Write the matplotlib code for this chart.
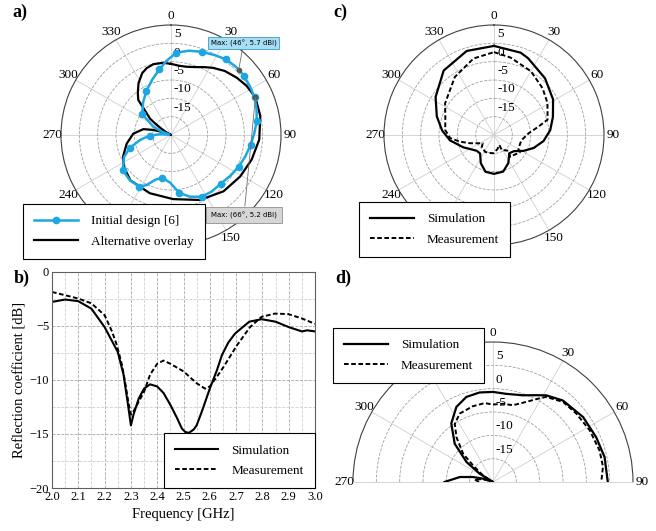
import numpy as np
import matplotlib
matplotlib.use('Agg')
import matplotlib.pyplot as plt
from matplotlib.transforms import offset_copy

plt.rcParams['font.family'] = ['Liberation Serif', 'DejaVu Serif']

# ---------------- data ----------------
# a) initial design (blue, with markers) and alternative overlay (black), deg / dBi
blue_ang = [3.7, 12, 20.4, 28.3, 35.8, 43, 46, 50.8, 58.5, 65.8, 73, 80.7, 89, 97, 106,
            115, 124.8, 134.6, 144.3, 153.6, 163, 172, 181, 192, 199.6, 206, 211.5, 222,
            233.8, 245, 252.5, 261, 268.5, 274, 280, 285, 290, 295, 306, 320, 331, 341.5,
            350, 356.7, 363.7]
blue_db = [2.5, 3.5, 4.2, 4.8, 5.5, 5.65, 5.7, 5.6, 5.3, 5.0, 4.4, 3.7, 2.7, 1.9, 1.1,
           0.4, -0.4, -1.0, -1.0, -1.2, -2.4, -4.1, -7.0, -8.1, -7.0, -4.8, -3.5, -3.3,
           -3.7, -5.9, -8.2, -11.5, -14.2, -17, -19.5, -19.5, -17.3, -14.7, -10.3, -8.2,
           -6.2, -4.0, -1.8, 0.3, 2.5]
blue_marks = [0, 2, 4, 7, 9, 11, 13, 15, 17, 19, 21, 23, 26, 28, 30, 32, 38, 40, 42]

alt_ang = [0, 7, 13, 20, 26, 32, 40, 49, 57, 66, 78, 93, 107, 121, 137, 156, 178, 200,
           222, 236, 246, 259, 272, 282, 286, 291, 296, 300, 303, 306, 308, 312, 317,
           322, 328, 335, 340, 346, 354, 360]
alt_db = [-0.6, -1.0, -0.9, -0.3, 0.6, 1.6, 2.8, 3.8, 4.6, 5.2, 4.9, 4.1, 3.0, 2.0, 1.0,
          -0.6, -2.5, -3.1, -3.4, -4.5, -5.7, -7.7, -9.7, -12.3, -15, -18, -20, -18.5,
          -17.0, -14.6, -12.7, -11.0, -6.9, -5.3, -3.3, -1.4, -0.6, -0.1, -0.2, -0.6]

max_blue = (46, 5.7)
max_alt = (66, 5.2)

# c) radiation pattern, simulation vs measurement
c_sim_ang = [0, 18, 24, 42, 59, 73, 85, 97, 108, 118, 129, 140, 153, 166, 180, 193, 205,
             217, 228, 248, 263, 275, 288, 303, 322, 342, 360]
c_sim_db = [4.3, 3.6, 2.9, 0.8, -1.2, -3.2, -4.6, -6.4, -8.6, -10.8, -13.0, -13.5, -11.4,
            -9.7, -9.4, -9.7, -11.5, -13.7, -13.6, -11.0, -7.9, -5.8, -3.6, -1.0, 2.3,
            4.1, 4.3]
c_meas_ang = [0, 12, 30, 46, 59, 74, 79, 87, 100, 108, 120, 124, 135, 143.6, 137.5, 153,
              152, 167, 182, 198, 208, 226, 234, 242, 251, 259, 266, 276, 286, 303, 326,
              345, 360]
c_meas_db = [2.6, 1.6, 0.1, -1.6, -3.0, -4.8, -7.5, -10.5, -12.3, -12.5, -12.3, -11.5,
             -12.3, -12.6, -14.2, -15.4, -16.9, -16.0, -15.0, -14.9, -14.8, -15.4, -16.2,
             -15.2, -13.1, -10.5, -8.0, -6.6, -6.2, -4.1, -0.9, 1.6, 2.6]

# d) half-plane pattern
d_sim_ang = [-90, -81.5, -76, -71.6, -65, -58, -53, -45, -35.5, -26, -17.4, -8.5, 0, 8.6,
             19, 26.6, 31.6, 40.6, 54.2, 66.5, 77.4, 90]
d_sim_db = [-9.6, -12.8, -15.6, -17.7, -20, -16.6, -12.9, -8.4, -4.6, -2.1, -0.9, -0.6,
            -0.7, -0.9, -0.35, 0.8, 1.8, 3.0, 3.8, 4.1, 4.5, 4.6]
d_meas_ang = [-90, -82, -76, -70, -65, -56.3, -50.2, -46.6, -39.2, -33.3, -26, -15, -6, 0,
              7.3, 14.6, 22.6, 28.4, 32, 41.2, 50.6, 61.9, 73.5, 82, 90]
d_meas_db = [-17, -16, -17.5, -19, -20, -17.4, -14.4, -11.2, -7.6, -5.1, -3.7, -3.2, -3.0,
             -3.4, -3.1, -3.0, -1.4, 0.3, 1.5, 2.8, 3.1, 3.5, 3.8, 3.8, 3.2]

# b) reflection coefficient
b_sim_f = [2.0, 2.05, 2.1, 2.15, 2.2, 2.25, 2.272, 2.289, 2.30, 2.31, 2.33, 2.35, 2.373,
           2.4, 2.424, 2.45, 2.475, 2.494, 2.506, 2.52, 2.538, 2.55, 2.57, 2.6, 2.627,
           2.646, 2.67, 2.696, 2.75, 2.797, 2.85, 2.9, 2.95, 2.97, 3.0]
b_sim_db = [-2.77, -2.55, -2.7, -3.4, -5.1, -7.4, -9.5, -12.3, -14.2, -13.2, -11.7, -10.8,
            -10.4, -10.6, -11.2, -12.3, -13.5, -14.5, -14.8, -14.9, -14.6, -14.2, -12.9,
            -10.8, -9.1, -7.7, -6.55, -5.7, -4.6, -4.37, -4.6, -5.1, -5.5, -5.4, -5.5]
b_meas_f = [2.0, 2.05, 2.1, 2.15, 2.2, 2.228, 2.247, 2.266, 2.278, 2.29, 2.30, 2.31, 2.33,
            2.35, 2.373, 2.4, 2.424, 2.45, 2.5, 2.55, 2.582, 2.6, 2.627, 2.652, 2.703,
            2.753, 2.797, 2.848, 2.899, 2.95, 3.0]
b_meas_db = [-1.85, -2.15, -2.46, -2.9, -4.0, -5.5, -6.8, -8.6, -10.2, -12.0, -13.2, -12.9,
             -12.0, -11.1, -9.5, -8.5, -8.2, -8.5, -9.2, -10.3, -10.8, -10.6, -9.7, -8.8,
             -6.8, -5.1, -4.15, -3.85, -3.9, -4.3, -4.8]

r_ticks = [-15, -10, -5, 0, 5]
full_angles = list(range(0, 360, 30))
half_angles = [-90, -60, -30, 0, 30, 60, 90]
half_labels = ['270', '300', '330', '0', '30', '60', '90']

# ---------------- figure ----------------
W, H = 656, 531
fig = plt.figure(figsize=(W / 100, H / 100), dpi=100)


def px_rect(x0, y0, x1, y1):
    return [x0 / W, 1 - y1 / H, (x1 - x0) / W, (y1 - y0) / H]


def setup_polar(ax, angles, labels):
    ax.set_theta_zero_location('N')
    ax.set_theta_direction(-1)
    ax.set_ylim(-20, 10)
    ax.set_yticks(r_ticks)
    ax.set_yticklabels([])
    ax.set_thetagrids(angles, labels, fontsize=9.5)
    ax.tick_params(axis='x', pad=-4)
    ax.grid(axis='y', ls='--', color='#a0a0a0', lw=0.6)
    ax.grid(axis='x', ls='-', color='#cfcfcf', lw=0.6)
    ax.spines['polar'].set(color='#404040', lw=0.8)
    tr = offset_copy(ax.transData, fig=fig, x=3, y=9, units='dots')
    for r in r_ticks:
        ax.text(0, r, str(r), transform=tr, ha='left', va='center', fontsize=9.5)


def add_legend(ax, **kw):
    leg = ax.legend(fontsize=9.5, frameon=True, fancybox=False, edgecolor='black',
                    framealpha=1, handlelength=3.3, borderaxespad=0, labelspacing=0.6,
                    handletextpad=1.0, borderpad=0.85, **kw)
    leg.get_frame().set_linewidth(0.8)
    leg.set_zorder(10)
    return leg


blue = '#1aa7e2'
dash = (0, (2.4, 1.3))

# ----- a)
ax_a = fig.add_axes(px_rect(61, 25, 281, 245), projection='polar')
setup_polar(ax_a, full_angles, [str(a) for a in full_angles])
ax_a.plot(np.deg2rad(blue_ang), blue_db, color=blue, lw=1.8, marker='o', ms=4.5,
          markevery=blue_marks, label='Initial design [6]', zorder=4)
ax_a.plot(np.deg2rad(alt_ang), alt_db, color='black', lw=1.6,
          label='Alternative overlay', zorder=3)
ax_a.plot(np.deg2rad(max_blue[0]), max_blue[1], 'o', color='#555555', ms=3, zorder=5)
ax_a.plot(np.deg2rad(max_alt[0]), max_alt[1], 'o', color='#555555', ms=3, zorder=5)
ax_a.annotate(f'Max: ({max_blue[0]}°, {max_blue[1]} dBi)',
              xy=(np.deg2rad(max_blue[0]), max_blue[1]),
              xytext=(243.5 / W, 1 - 43 / H), textcoords='figure fraction',
              ha='center', va='center', fontsize=5, family='DejaVu Sans',
              bbox=dict(boxstyle='square,pad=0.4', fc='#a6def5', ec='#3a9cc8', lw=0.6),
              arrowprops=dict(arrowstyle='-', color='#707070', lw=0.6,
                              shrinkA=0, shrinkB=0), zorder=6)
ax_a.annotate(f'Max: ({max_alt[0]}°, {max_alt[1]} dBi)',
              xy=(np.deg2rad(max_alt[0]), max_alt[1]),
              xytext=(244 / W, 1 - 215 / H), textcoords='figure fraction',
              ha='center', va='center', fontsize=5, family='DejaVu Sans',
              bbox=dict(boxstyle='square,pad=0.7', fc='#d6d6d6', ec='#909090', lw=0.6),
              arrowprops=dict(arrowstyle='-', color='#707070', lw=0.6,
                              shrinkA=0, shrinkB=0), zorder=6)
add_legend(ax_a, loc='upper left', bbox_to_anchor=(23 / W, 1 - 204 / H),
           bbox_transform=fig.transFigure)

# ----- c)
ax_c = fig.add_axes(px_rect(384, 25, 604, 245), projection='polar')
setup_polar(ax_c, full_angles, [str(a) for a in full_angles])
ax_c.plot(np.deg2rad(c_sim_ang), c_sim_db, color='black', lw=1.6, label='Simulation')
ax_c.plot(np.deg2rad(c_meas_ang), c_meas_db, color='black', lw=1.4, ls=dash,
          label='Measurement')
add_legend(ax_c, loc='upper left', bbox_to_anchor=(359 / W, 1 - 202 / H),
           bbox_transform=fig.transFigure)

# ----- d) half plane; the wedge is fitted centred in a square box
ax_d = fig.add_axes(px_rect(353, 272, 633, 552), projection='polar')
setup_polar(ax_d, half_angles, half_labels)
ax_d.set_thetamin(-90)
ax_d.set_thetamax(90)
ax_d.spines['start'].set(color='#cfcfcf', lw=0.6)
ax_d.spines['end'].set(color='#cfcfcf', lw=0.6)
ax_d.plot(np.deg2rad(d_sim_ang), d_sim_db, color='black', lw=1.6, label='Simulation')
ax_d.plot(np.deg2rad(d_meas_ang), d_meas_db, color='black', lw=1.4, ls=dash,
          label='Measurement')
add_legend(ax_d, loc='upper left', bbox_to_anchor=(333 / W, 1 - 328 / H),
           bbox_transform=fig.transFigure)

# ----- b)
ax_b = fig.add_axes(px_rect(52, 272, 315, 488))
ax_b.plot(b_sim_f, b_sim_db, color='black', lw=1.5, label='Simulation')
ax_b.plot(b_meas_f, b_meas_db, color='black', lw=1.4, ls=dash, label='Measurement')
ax_b.set_xlim(2.0, 3.0)
ax_b.set_ylim(-20, 0)
ax_b.set_xticks(np.arange(2.0, 3.01, 0.1))
ax_b.set_xticklabels([f'{v:.1f}' for v in np.arange(2.0, 3.01, 0.1)])
ax_b.set_yticks([-20, -15, -10, -5, 0])
ax_b.set_xticks(np.arange(2.05, 3.0, 0.1), minor=True)
ax_b.set_yticks([-17.5, -12.5, -7.5, -2.5], minor=True)
ax_b.tick_params(which='both', length=0, labelsize=9, pad=2)
ax_b.grid(which='major', ls='--', color='#a8a8a8', lw=0.6)
ax_b.grid(which='minor', ls='--', color='#d0d0d0', lw=0.6)
for s in ax_b.spines.values():
    s.set(color='#606060', lw=0.8)
ax_b.set_xlabel('Frequency [GHz]', fontsize=10.5, labelpad=4)
ax_b.set_ylabel('Reflection coefficient [dB]', fontsize=10.5, labelpad=2)
leg = add_legend(ax_b, loc='lower right')
leg.set_zorder(10)

# panel letters
for lbl, x, y in [('a)', 12, 12), ('b)', 14, 278), ('c)', 333, 12), ('d)', 335, 278)]:
    fig.text(x / W, 1 - y / H, lbl, fontsize=13, fontweight='bold', va='center')

fig.savefig('out.png', dpi=100)
